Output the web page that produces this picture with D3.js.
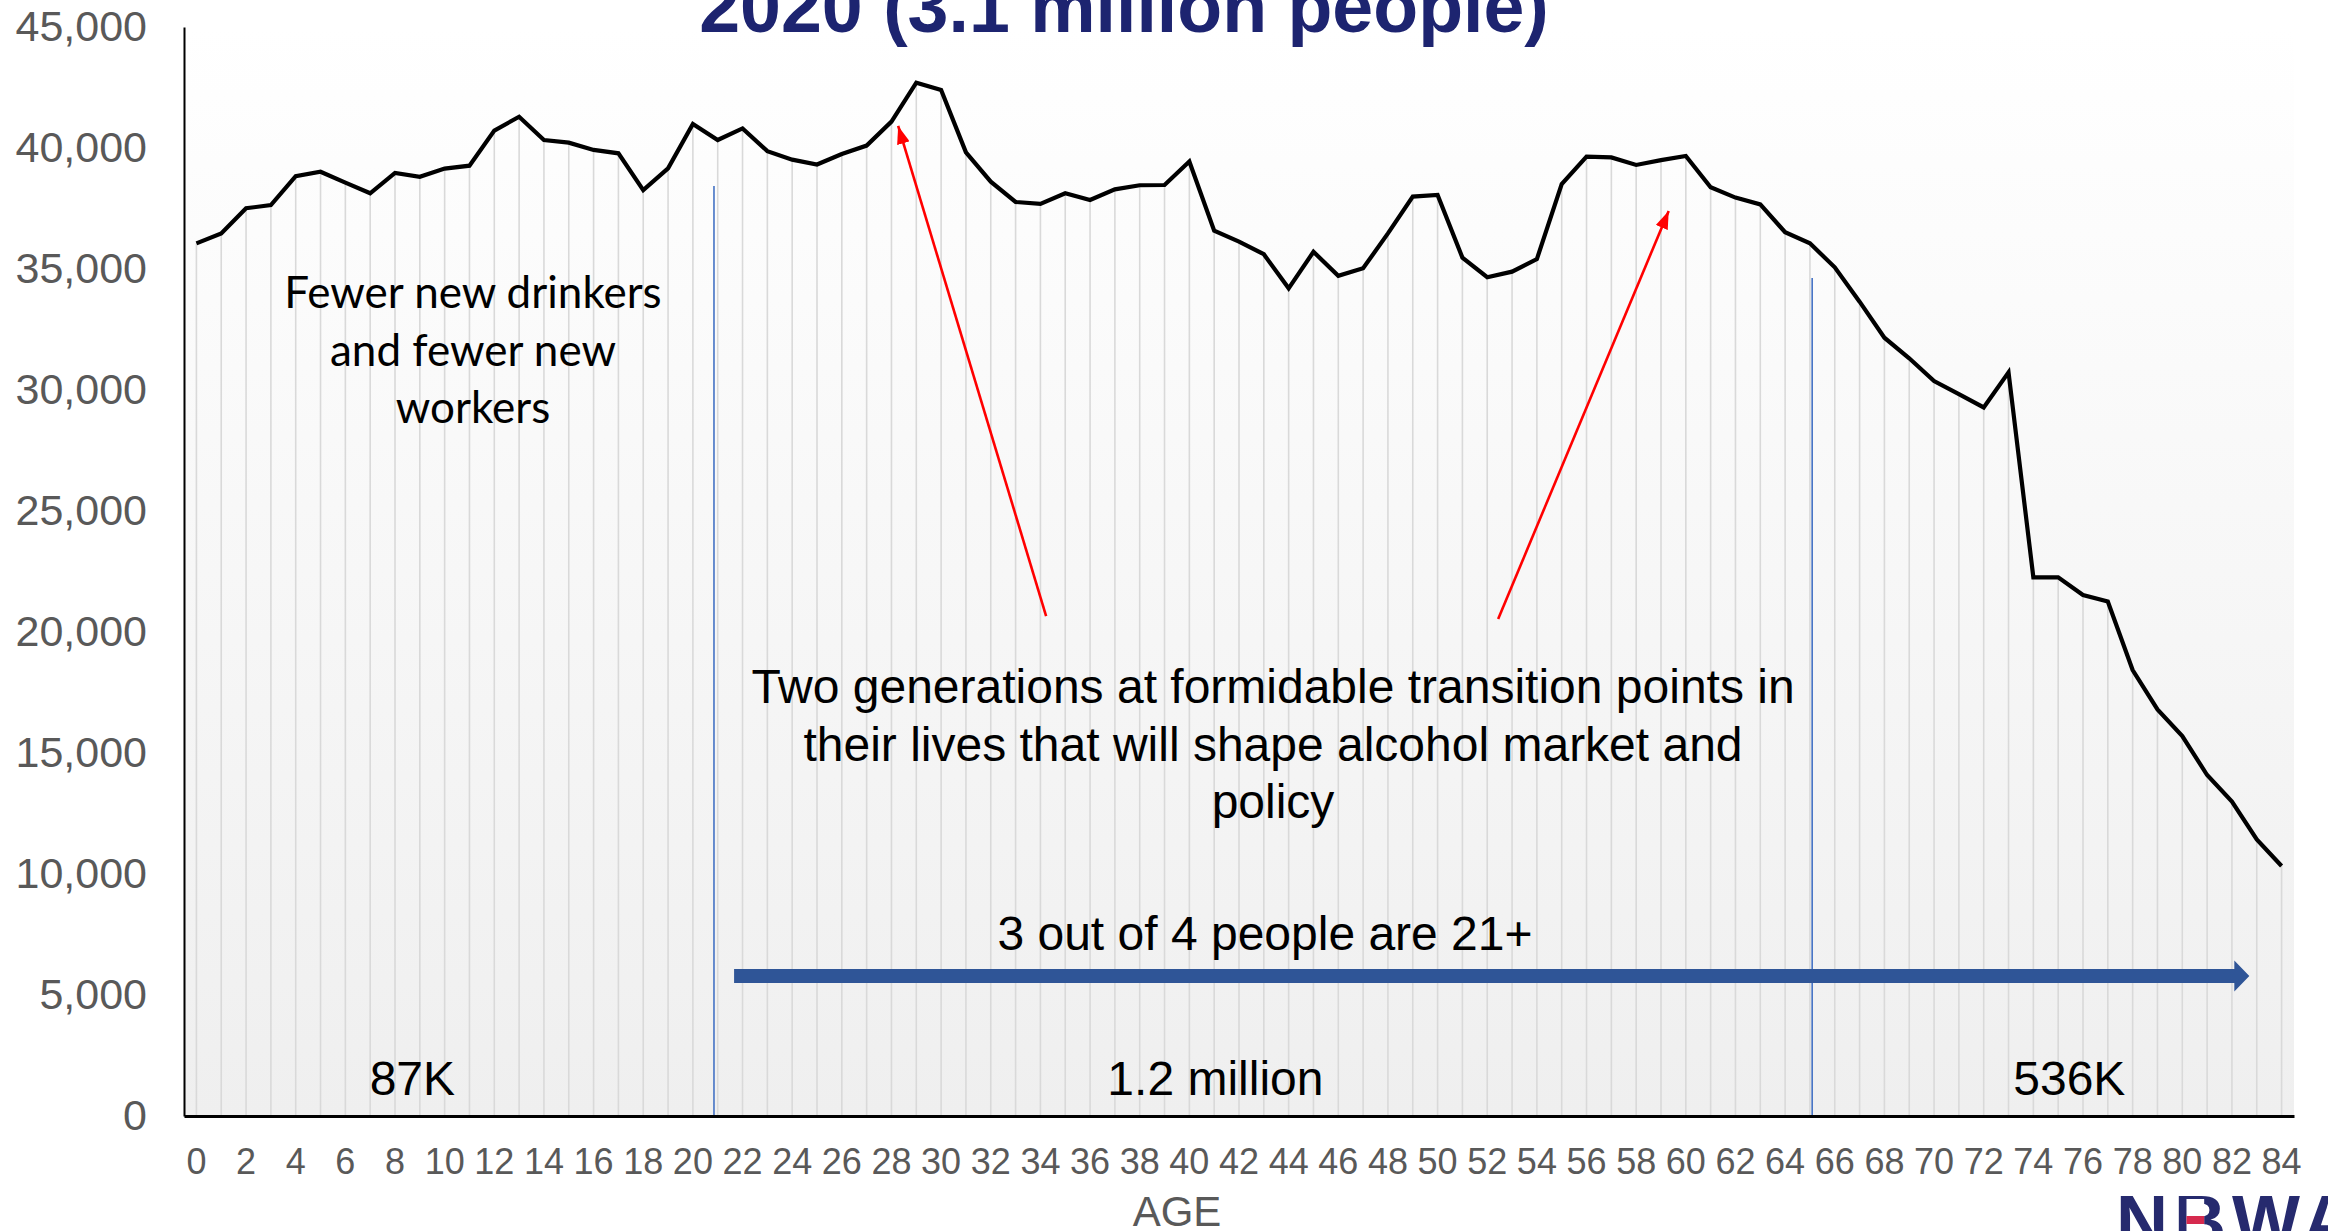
<!DOCTYPE html>
<html>
<head>
<meta charset="utf-8">
<script src="https://cdn.jsdelivr.net/npm/d3@7"></script>
<style>
  html, body { margin: 0; padding: 0; background: #ffffff; }
  svg { display: block; }
</style>
</head>
<body>
<svg id="chart" width="2328" height="1231"></svg>
<script>
// ---------------- DATA ----------------
const ages = [0,1,2,3,4,5,6,7,8,9,10,11,12,13,14,15,16,17,18,19,20,21,22,23,24,25,26,27,28,29,
  30,31,32,33,34,35,36,37,38,39,40,41,42,43,44,45,46,47,48,49,50,51,52,53,54,55,56,57,58,59,
  60,61,62,63,64,65,66,67,68,69,70,71,72,73,74,75,76,77,78,79,80,81,82,83,84];
const population = [36060,36470,37510,37640,38840,39020,38570,38130,38970,38810,
  39150,39270,40720,41290,40330,40220,39920,39780,38260,39160,
  40990,40330,40810,39870,39520,39320,39750,40100,41090,42700,
  42400,39820,38610,37770,37690,38130,37850,38290,38460,38470,
  39440,36580,36130,35610,34200,35710,34720,35030,36470,37990,
  38060,35470,34660,34890,35410,38510,39640,39610,39300,39500,
  39670,38380,37950,37670,36520,36060,35070,33650,32160,31310,
  30370,29830,29280,30730,22260,22260,21530,21260,18430,16800,
  15700,14090,12990,11430,10330];
const xTickLabels = [0,2,4,6,8,10,12,14,16,18,20,22,24,26,28,30,32,34,36,38,40,42,44,46,48,50,
  52,54,56,58,60,62,64,66,68,70,72,74,76,78,80,82,84];
const yTickLabels = [0,5000,10000,15000,20000,25000,30000,35000,40000,45000];
const titleText = "2020 (3.1 million people)";
const xAxisTitle = "AGE";
// annotation anchors in data units: [age, population]
const dividerLines = [[20.85, 38430], [65.09, 34630]];
const redArrows = [
  {from: [34.23, 20660], to: [28.27, 40910]},
  {from: [52.44, 20540], to: [59.31, 37400]}
];
const adultArrow = {from: 21.66, to: 82.7, level: 5790};
const noteLeft = ["Fewer new drinkers", "and fewer new", "workers"];
const noteMid = ["Two generations at formidable transition points in",
                 "their lives that will shape alcohol market and", "policy"];
const noteArrow = "3 out of 4 people are 21+";
const groupTotals = [{label: "87K", age: 8.7}, {label: "1.2 million", age: 41.05}, {label: "536K", age: 75.45}];

// ---------------- LAYOUT ----------------
const svg = d3.select("#chart");
const plot = {left: 184, right: 2294, top: 27, bottom: 1116};

const x = d3.scaleBand().domain(ages).range([plot.left, plot.right]).paddingInner(0).paddingOuter(0);
const bw = x.bandwidth();
const cx = a => x(a) + bw / 2;
const xf = a => x(0) + bw / 2 + a * x.step(); // fractional age position
const y = d3.scaleLinear().domain([0, 45000]).range([plot.bottom, plot.top]);

const defs = svg.append("defs");
const grad = defs.append("linearGradient").attr("id", "bg").attr("x1", 0).attr("y1", 0).attr("x2", 0).attr("y2", 1);
grad.append("stop").attr("offset", "0%").attr("stop-color", "#ffffff");
grad.append("stop").attr("offset", "100%").attr("stop-color", "#efefef");

const marker = (id, color, w, h) => {
  defs.append("marker").attr("id", id).attr("viewBox", `0 0 ${w} ${h}`)
    .attr("refX", w).attr("refY", h / 2).attr("markerWidth", w).attr("markerHeight", h)
    .attr("markerUnits", "userSpaceOnUse").attr("orient", "auto")
    .append("path").attr("d", `M0,0L${w},${h/2}L0,${h}Z`).attr("fill", color);
};
marker("redHead", "#ff0000", 18, 13);

// plot background
svg.append("rect").attr("x", plot.left).attr("y", plot.top)
  .attr("width", plot.right - plot.left).attr("height", plot.bottom - plot.top)
  .attr("fill", "url(#bg)");

// drop lines
svg.append("g").selectAll("line").data(ages).join("line")
  .attr("x1", d => cx(d)).attr("x2", d => cx(d))
  .attr("y1", (d, i) => y(population[i])).attr("y2", y(0))
  .attr("stroke", "#d9d9d9").attr("stroke-width", 1.6);

// divider lines (blue)
svg.append("g").selectAll("line").data(dividerLines).join("line")
  .attr("x1", d => xf(d[0])).attr("x2", d => xf(d[0]))
  .attr("y1", d => y(d[1])).attr("y2", y(0))
  .attr("stroke", "#4472c4").attr("stroke-width", 1.6);

// y axis
const arial = "'Liberation Sans', Arial, sans-serif";
const yAxis = svg.append("g").attr("transform", `translate(${plot.left},0)`)
  .call(d3.axisLeft(y).tickValues(yTickLabels).tickFormat(d3.format(",")).tickSize(0).tickSizeOuter(0).tickPadding(37));
yAxis.select(".domain").attr("stroke", "#000").attr("stroke-width", 2);
yAxis.selectAll("text").attr("font-family", arial)
  .attr("font-size", 43).attr("fill", "#595959");

// x axis
const xAxis = svg.append("g").attr("transform", `translate(0,${plot.bottom})`)
  .call(d3.axisBottom(x).tickValues(xTickLabels).tickSize(0).tickSizeOuter(0).tickPadding(32));
xAxis.select(".domain").attr("stroke", "#000").attr("stroke-width", 3);
xAxis.selectAll("text").attr("font-family", arial)
  .attr("font-size", 36).attr("fill", "#595959");

svg.append("text").attr("x", (plot.left + plot.right) / 2 - 62).attr("y", 1226)
  .attr("text-anchor", "middle").attr("font-family", arial)
  .attr("font-size", 42).attr("fill", "#595959").text(xAxisTitle);

// data line
svg.append("path").datum(population)
  .attr("d", d3.line().x((d, i) => cx(ages[i])).y(d => y(d)))
  .attr("fill", "none").attr("stroke", "#000").attr("stroke-width", 4.2).attr("stroke-linejoin", "miter");

// red arrows
svg.append("g").selectAll("line").data(redArrows).join("line")
  .attr("x1", d => xf(d.from[0])).attr("y1", d => y(d.from[1]))
  .attr("x2", d => xf(d.to[0])).attr("y2", d => y(d.to[1]))
  .attr("stroke", "#ff0000").attr("stroke-width", 2.6).attr("marker-end", "url(#redHead)");

// adult arrow (thick blue)
{
  const x0 = xf(adultArrow.from), x1 = xf(adultArrow.to), yc = y(adultArrow.level);
  const sh = 7, hh = 15.5, hl = 15;
  svg.append("path")
    .attr("d", `M${x0},${yc-sh}L${x1-hl},${yc-sh}L${x1-hl},${yc-hh}L${x1},${yc}L${x1-hl},${yc+hh}L${x1-hl},${yc+sh}L${x0},${yc+sh}Z`)
    .attr("fill", "#2f5597");
}

// notes
svg.append("g").selectAll("text").data(noteLeft).join("text")
  .attr("x", 473).attr("y", (d, i) => 308 + i * 57.5)
  .attr("text-anchor", "middle").attr("font-family", "Lato, 'Open Sans', sans-serif")
  .attr("font-size", 44).attr("fill", "#000").text(d => d);

svg.append("g").selectAll("text").data(noteMid).join("text")
  .attr("x", 1273).attr("y", (d, i) => 703 + i * 57.5)
  .attr("text-anchor", "middle").attr("font-family", arial)
  .attr("font-size", 48).attr("fill", "#000").text(d => d);

svg.append("text").attr("x", 1265).attr("y", 950).attr("text-anchor", "middle")
  .attr("font-family", arial).attr("font-size", 48).attr("fill", "#000").text(noteArrow);

svg.append("g").selectAll("text").data(groupTotals).join("text")
  .attr("x", d => xf(d.age)).attr("y", 1095).attr("text-anchor", "middle")
  .attr("font-family", arial).attr("font-size", 48).attr("fill", "#000").text(d => d.label);

// title
svg.append("text").attr("x", 1124).attr("y", 32).attr("text-anchor", "middle")
  .attr("font-family", arial).attr("font-weight", "bold").attr("font-size", 73.5)
  .attr("fill", "#1d2470").text(titleText);

// logo
const logoX = 2116;
const logo = svg.append("text").attr("x", logoX).attr("y", 1246)
  .attr("font-family", arial).attr("font-weight", "bold").attr("font-size", 72)
  .attr("letter-spacing", 6)
  .attr("fill", "#262a6e").text("NBWA");
const node = logo.node();
const bStart = logoX + node.getSubStringLength(0, 1);
const bWidth = node.getSubStringLength(1, 1) - 6;
svg.append("rect").attr("x", bStart + bWidth * 0.24).attr("y", 1199).attr("width", bWidth * 0.34).attr("height", 32).attr("fill", "#ffffff");
svg.append("rect").attr("x", bStart + bWidth * 0.24).attr("y", 1216).attr("width", bWidth * 0.34).attr("height", 8).attr("fill", "#d62a4e");
</script>
</body>
</html>
